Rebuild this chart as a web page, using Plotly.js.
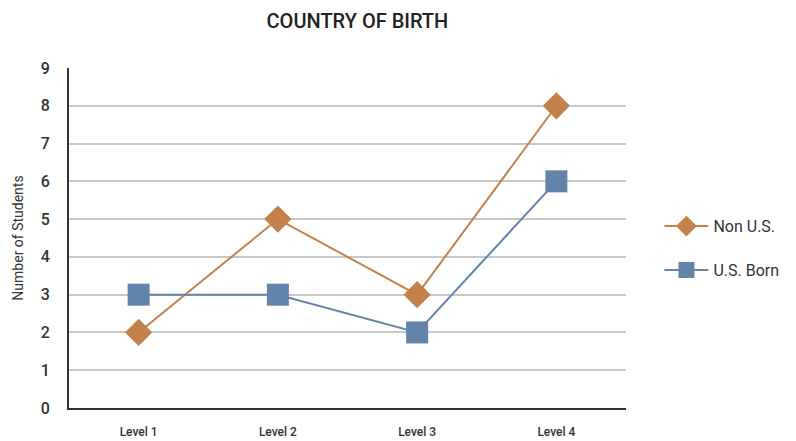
<!DOCTYPE html>
<html>
<head>
<meta charset="utf-8">
<script src="https://cdn.plot.ly/plotly-3.0.1.min.js"></script>
<style>html,body{margin:0;padding:0;background:#fff;}#chart{width:796px;height:441px;}</style>
</head>
<body>
<div id="chart"></div>
<script>
const categories = ["Level 1", "Level 2", "Level 3", "Level 4"];
const nonUS = [2, 5, 3, 8];
const usBorn = [3, 3, 2, 6];
const yTicks = [0, 1, 2, 3, 4, 5, 6, 7, 8, 9];

const font = "Roboto, 'DejaVu Sans', sans-serif";

const traces = [
  {
    x: categories, y: nonUS, name: "Non U.S.", type: "scatter", mode: "lines+markers",
    legendgroup: "a",
    line: {color: "#c4824a", width: 2},
    marker: {symbol: "diamond", size: 21, color: "#c4824a"}
  },
  {
    x: categories, y: usBorn, name: "U.S. Born", type: "scatter", mode: "lines+markers",
    legendgroup: "b",
    line: {color: "#6384aa", width: 2},
    marker: {symbol: "square", size: 22, color: "#6384aa"}
  }
];

const layout = {
  width: 796, height: 441,
  margin: {l: 69, r: 168, t: 68, b: 33},
  paper_bgcolor: "#fff", plot_bgcolor: "#fff",
  title: {text: "COUNTRY OF BIRTH", xref: "container", x: 0.449, xanchor: "center", y: 0.952, yanchor: "middle",
          font: {family: font, size: 20, weight: 500, color: "#222"}},
  xaxis: {
    type: "category", range: [-0.5, 3.5], showgrid: false, zeroline: false,
    showline: true, linecolor: "#333", linewidth: 2,
    ticks: "", ticklabelstandoff: 12, tickfont: {family: font, size: 12, weight: 500, color: "#333"}
  },
  yaxis: {
    range: [0, 9], tickvals: yTicks, ticktext: yTicks.map(String),
    showgrid: true, gridcolor: "#c8c8c8", gridwidth: 2, zeroline: false,
    showline: true, linecolor: "#333", linewidth: 2,
    ticks: "", ticklabelstandoff: 14, tickfont: {family: font, size: 16, weight: 500, color: "#333"},
    title: {text: "Number of Students", font: {family: font, size: 14, color: "#333"}, standoff: 14}
  },
  showlegend: true,
  legend: {x: 1.06, xanchor: "left", y: 0.47, yanchor: "middle", traceorder: "grouped",
           itemwidth: 44, tracegroupgap: 20, font: {family: font, size: 16, color: "#333"}, bgcolor: "rgba(0,0,0,0)"}
};

Plotly.newPlot("chart", traces, layout, {displayModeBar: false, responsive: false});
</script>
</body>
</html>
